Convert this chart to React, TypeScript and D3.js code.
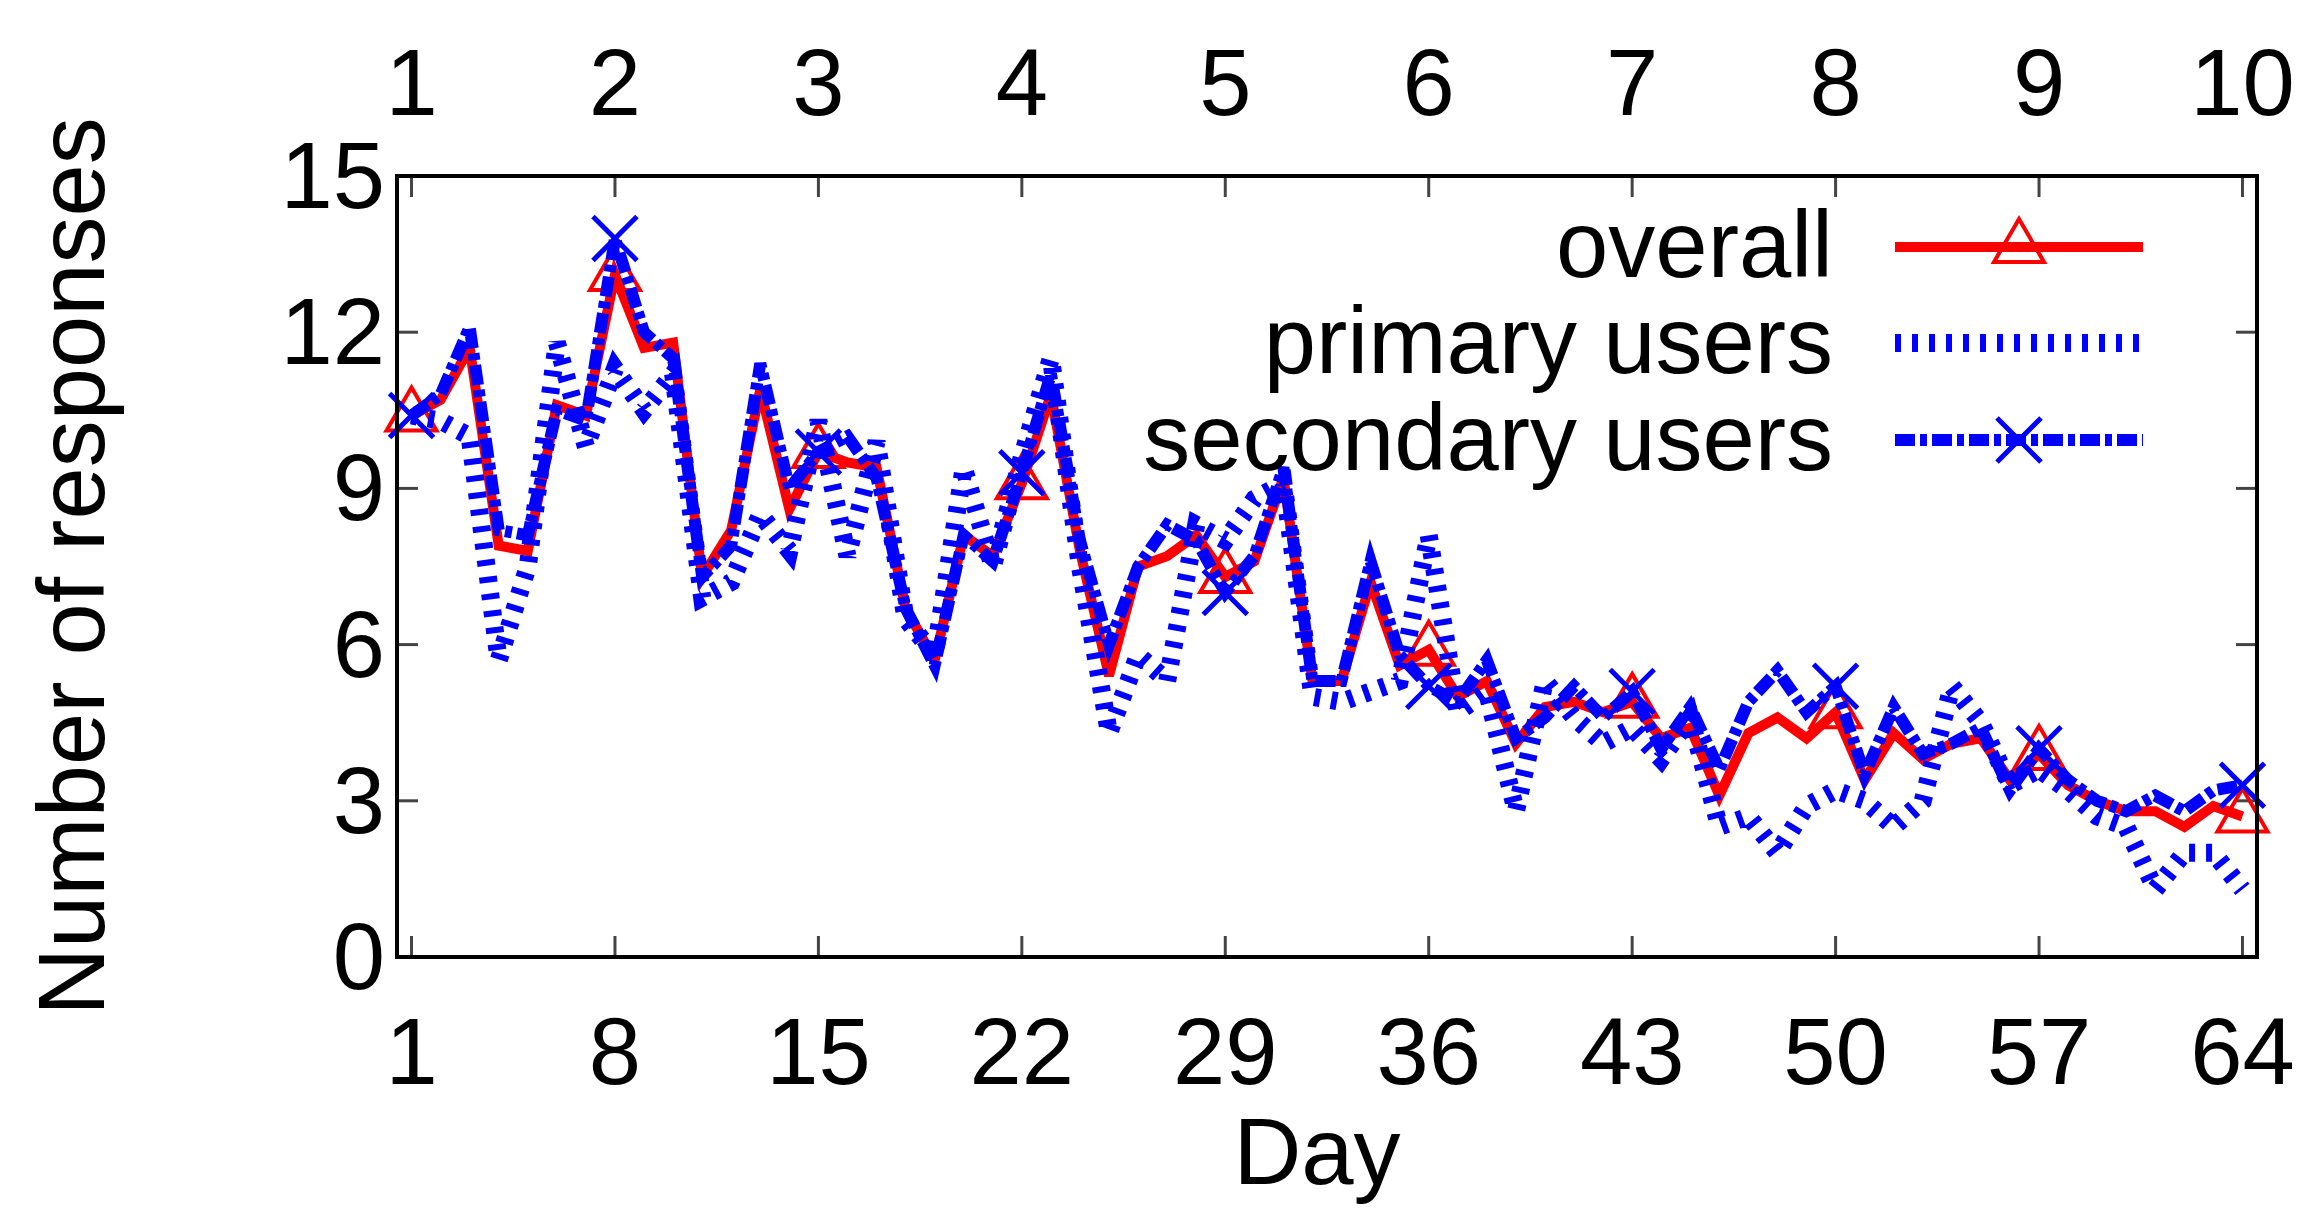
import * as d3 from 'd3';
import React, { useRef, useEffect } from 'react';

// values, one per day (day 1..64)
const overall = [
  10.4, 10.7, 11.7, 7.9, 7.8, 10.6, 10.4, 13.1, 11.7, 11.8, 7.3, 8.2, 10.9, 8.6, 9.7, 9.5,
  9.4, 6.7, 5.7, 8.1, 7.7, 9.1, 10.8, 7.8, 5.4, 7.5, 7.7, 8.1, 7.3, 7.6, 9.2, 5.3,
  5.3, 7.2, 5.6, 5.9, 5.0, 5.3, 4.1, 4.8, 4.9, 4.7, 4.9, 4.2, 4.4, 3.1, 4.3, 4.6,
  4.2, 4.7, 3.4, 4.3, 3.8, 4.1, 4.2, 3.4, 3.9, 3.3, 3.0, 2.8, 2.8, 2.5, 2.9, 2.7,
];
const primaryUsers = [
  10.4, 10.3, 10.0, 5.7, 7.5, 11.8, 9.8, 11.3, 10.5, 11.2, 6.9, 7.2, 8.5, 7.8, 10.3, 7.7,
  9.9, 6.5, 5.8, 9.4, 7.5, 9.6, 11.5, 7.5, 4.3, 5.8, 5.3, 8.3, 8.0, 8.8, 9.1, 5.0,
  4.9, 5.1, 5.3, 8.1, 4.7, 5.1, 2.8, 5.3, 4.6, 4.1, 4.4, 3.8, 4.6, 2.5, 2.7, 2.0,
  2.9, 3.2, 3.0, 2.5, 3.0, 5.2, 4.5, 3.3, 3.6, 3.2, 2.7, 2.5, 1.3, 2.0, 2.0, 1.3,
];
const secondaryUsers = [
  10.4, 10.8, 12.1, 8.2, 8.1, 10.5, 10.3, 13.8, 12.0, 11.5, 7.3, 7.9, 11.4, 9.0, 9.7, 10.0,
  9.2, 6.7, 5.6, 8.1, 7.6, 9.3, 11.2, 8.0, 6.0, 7.5, 8.3, 8.0, 7.0, 7.7, 9.4, 5.3,
  5.3, 7.6, 5.8, 5.2, 4.9, 5.7, 4.2, 4.6, 5.2, 4.6, 5.1, 4.0, 4.8, 3.6, 4.9, 5.5,
  4.7, 5.2, 3.5, 4.8, 3.9, 4.1, 4.4, 3.2, 4.0, 3.4, 3.0, 2.8, 3.1, 2.8, 3.2, 3.3,
];
const dayTicks = [1, 8, 15, 22, 29, 36, 43, 50, 57, 64];
const weekLabels = ['1', '2', '3', '4', '5', '6', '7', '8', '9', '10'];
const yTicks = [0, 3, 6, 9, 12, 15];
const seriesNames = ['overall', 'primary users', 'secondary users'];

const FONT = '"Liberation Sans", Arial, Helvetica, sans-serif';

function App() {
  const svgRef = useRef(null);

  useEffect(() => {
    const margin = { top: 176, right: 47, bottom: 274, left: 397 },
      width = 2304,
      height = 1231;

    const svg = d3.select(svgRef.current);
    svg.selectAll('*').remove();
    svg.append('rect').attr('width', width).attr('height', height).attr('fill', '#fff');

    const x = d3
      .scaleLinear()
      .domain([0.5, 64.5])
      .range([margin.left, width - margin.right]);
    const y = d3
      .scaleLinear()
      .domain([0, 15])
      .range([height - margin.bottom, margin.top]);

    const [x0, x1] = x.range();
    const [yb, yt] = y.range();

    // ticks (inward, mirrored)
    const tickLen = 21;
    const ticks = svg.append('g').attr('stroke', '#444').attr('stroke-width', 3);
    dayTicks.forEach((d) => {
      ticks.append('line').attr('x1', x(d)).attr('x2', x(d)).attr('y1', yb).attr('y2', yb - tickLen);
      ticks.append('line').attr('x1', x(d)).attr('x2', x(d)).attr('y1', yt).attr('y2', yt + tickLen);
    });
    yTicks.forEach((v) => {
      ticks.append('line').attr('x1', x0).attr('x2', x0 + tickLen).attr('y1', y(v)).attr('y2', y(v));
      ticks.append('line').attr('x1', x1).attr('x2', x1 - tickLen).attr('y1', y(v)).attr('y2', y(v));
    });

    // tick labels
    const labels = svg.append('g').attr('font-family', FONT).attr('font-size', 94).attr('fill', '#000');
    dayTicks.forEach((d, i) => {
      labels
        .append('text')
        .attr('x', x(d))
        .attr('y', 1084)
        .attr('text-anchor', 'middle')
        .text(String(d));
      labels
        .append('text')
        .attr('x', x(d))
        .attr('y', 115)
        .attr('text-anchor', 'middle')
        .text(weekLabels[i]);
    });
    yTicks.forEach((v) => {
      labels
        .append('text')
        .attr('x', 385)
        .attr('y', y(v) + 32)
        .attr('text-anchor', 'end')
        .text(String(v));
    });

    // axis titles
    labels
      .append('text')
      .attr('x', (x0 + x1) / 2 - 10)
      .attr('y', 1184)
      .attr('text-anchor', 'middle')
      .text('Day');
    labels
      .append('text')
      .attr('transform', 'translate(104,' + (yb + yt) / 2 + ') rotate(-90)')
      .attr('text-anchor', 'middle')
      .text('Number of responses');

    const line = d3
      .line<number>()
      .x((d, i) => x(i + 1))
      .y((d) => y(d));

    const markerIdx = dayTicks.map((d) => d - 1);
    const tri = 'M0,-28L25,15L-25,15Z';
    const cross = 'M-22,-22L22,22M-22,22L22,-22';

    // overall
    svg
      .append('path')
      .datum(overall)
      .attr('fill', 'none')
      .attr('stroke', '#ff0000')
      .attr('stroke-width', 10)
      .attr('stroke-linejoin', 'miter')
      .attr('d', line);
    svg
      .append('g')
      .selectAll('path')
      .data(markerIdx)
      .join('path')
      .attr('transform', (i) => 'translate(' + x(i + 1) + ',' + y(overall[i]) + ')')
      .attr('d', tri)
      .attr('fill', 'none')
      .attr('stroke', '#ff0000')
      .attr('stroke-width', 4);

    // primary users
    svg
      .append('path')
      .datum(primaryUsers)
      .attr('fill', 'none')
      .attr('stroke', '#0000ff')
      .attr('stroke-width', 18)
      .attr('stroke-dasharray', '6,11')
      .attr('d', line);

    // secondary users
    svg
      .append('path')
      .datum(secondaryUsers)
      .attr('fill', 'none')
      .attr('stroke', '#0000ff')
      .attr('stroke-width', 12)
      .attr('stroke-dasharray', '20,5,7,5')
      .attr('d', line);
    svg
      .append('g')
      .selectAll('path')
      .data(markerIdx)
      .join('path')
      .attr('transform', (i) => 'translate(' + x(i + 1) + ',' + y(secondaryUsers[i]) + ')')
      .attr('d', cross)
      .attr('fill', 'none')
      .attr('stroke', '#0000ff')
      .attr('stroke-width', 5);

    // frame
    svg
      .append('rect')
      .attr('x', x0)
      .attr('y', yt)
      .attr('width', x1 - x0)
      .attr('height', yb - yt)
      .attr('fill', 'none')
      .attr('stroke', '#000')
      .attr('stroke-width', 4);

    // legend
    const lg = svg.append('g');
    const rowY = [247, 343, 440];
    const lx0 = 1895,
      lx1 = 2143,
      lmid = (lx0 + lx1) / 2;
    seriesNames.forEach((name, i) => {
      lg.append('text')
        .attr('x', 1833)
        .attr('y', rowY[i] + 30)
        .attr('text-anchor', 'end')
        .attr('font-family', FONT)
        .attr('font-size', 94)
        .text(name);
    });
    lg.append('line')
      .attr('x1', lx0).attr('x2', lx1).attr('y1', rowY[0]).attr('y2', rowY[0])
      .attr('stroke', '#ff0000').attr('stroke-width', 10);
    lg.append('path')
      .attr('transform', 'translate(' + lmid + ',' + rowY[0] + ')')
      .attr('d', tri).attr('fill', 'none').attr('stroke', '#ff0000').attr('stroke-width', 4);
    lg.append('line')
      .attr('x1', lx0).attr('x2', lx1).attr('y1', rowY[1]).attr('y2', rowY[1])
      .attr('stroke', '#0000ff').attr('stroke-width', 18).attr('stroke-dasharray', '6,11');
    lg.append('line')
      .attr('x1', lx0).attr('x2', lx1).attr('y1', rowY[2]).attr('y2', rowY[2])
      .attr('stroke', '#0000ff').attr('stroke-width', 12).attr('stroke-dasharray', '20,5,7,5');
    lg.append('path')
      .attr('transform', 'translate(' + lmid + ',' + rowY[2] + ')')
      .attr('d', cross).attr('fill', 'none').attr('stroke', '#0000ff').attr('stroke-width', 5);
  }, []);

  return (
    <svg
      ref={svgRef}
      width={2304}
      height={1231}
      style={{ position: 'absolute', left: 0, top: 0, display: 'block' }}
    ></svg>
  );
}

export default App;
